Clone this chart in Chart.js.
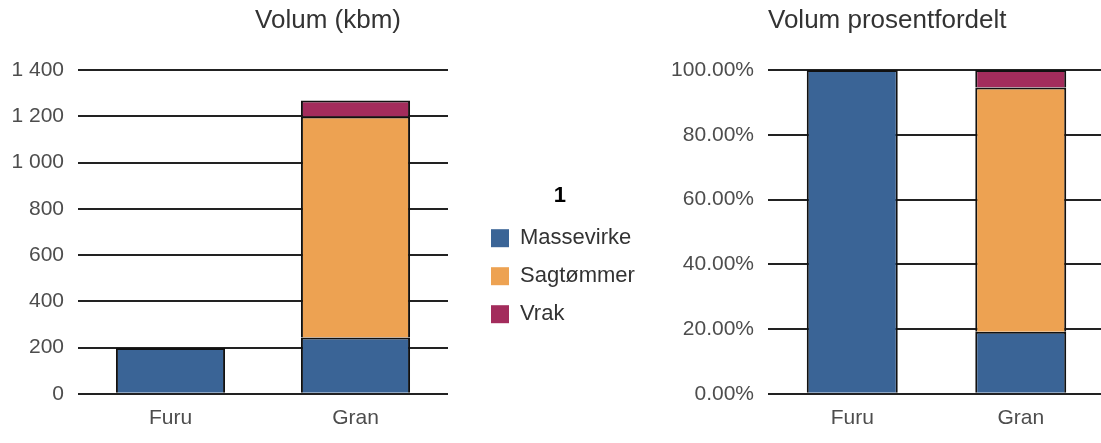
<!DOCTYPE html>
<html>
<head>
<meta charset="utf-8">
<script src="https://cdn.jsdelivr.net/npm/chart.js@4.4.1/dist/chart.umd.min.js"></script>
<style>
  html, body { margin: 0; padding: 0; background: #fff; overflow: hidden; width: 1101px; height: 443px; }
  #wrapL { position: absolute; left: 0; top: 0; width: 656px; height: 443px; }
  #wrapR { position: absolute; left: 475px; top: 0; width: 631px; height: 443px; }
</style>
</head>
<body>
<div id="wrapL"><canvas id="left"></canvas></div>
<div id="wrapR"><canvas id="right"></canvas></div>
<script>
// ---- data ----
const categories = ['Furu', 'Gran'];
const seriesNames = ['Massevirke', 'Sagtømmer', 'Vrak'];
const massevirke = [198, 243];
const sagtommer = [null, 956];
const vrak = [null, 69];
const leftTickLabels = ['0', '200', '400', '600', '800', '1 000', '1 200', '1 400'];
const rightTickLabels = ['0.00%', '20.00%', '40.00%', '60.00%', '80.00%', '100.00%'];
const leftTitle = 'Volum (kbm)';
const rightTitle = 'Volum prosentfordelt';
const legendTitle = '1';

// ---- styles ----
const colors = ['#3a6496', '#eda252', '#a32c5c'];
const FONT = '"Liberation Sans", Arial, sans-serif';
const seriesValues = [massevirke, sagtommer, vrak];
const totals = categories.map((_, i) => seriesValues.reduce((s, arr) => s + (arr[i] || 0), 0));
const percentValues = seriesValues.map(arr => arr.map((v, i) => v == null ? null : v / totals[i] * 100));

function makeDatasets(valuesList, barPct) {
  return seriesNames.map((name, k) => ({
    label: name,
    data: valuesList[k],
    backgroundColor: colors[k],
    borderColor: '#111',
    borderWidth: 2,
    barPercentage: barPct,
    categoryPercentage: 1
  }));
}

function scales(max, step, labels, yWidthFn, tickPad) {
  return {
    x: {
      stacked: true,
      grid: { display: false, drawTicks: false },
      border: { display: false },
      ticks: { color: '#4d4d4d', font: { family: FONT, size: 21 }, padding: 12 }
    },
    y: {
      stacked: true,
      min: 0, max: max,
      afterFit: yWidthFn,
      grid: { color: '#222', lineWidth: 2, drawTicks: false },
      border: { display: false },
      ticks: {
        stepSize: step,
        color: '#4d4d4d',
        font: { family: FONT, size: 21 },
        padding: tickPad,
        callback: (v, i) => labels[i]
      }
    }
  };
}

// centre the left title over the whole left canvas (including the legend gap)
const wideTitle = {
  id: 'wideTitle',
  afterLayout(chart) {
    if (chart.titleBlock) { chart.titleBlock.left = 0; chart.titleBlock.right = chart.width; }
  }
};

new Chart(document.getElementById('left'), {
  type: 'bar',
  data: { labels: categories, datasets: makeDatasets(seriesValues, 0.59) },
  plugins: [wideTitle],
  options: {
    responsive: true, maintainAspectRatio: false, animation: false,
    layout: { padding: { left: 0, right: 208, top: 0, bottom: 0 } },
    scales: scales(1400, 200, leftTickLabels, s => { s.width = 78; }, 14),
    plugins: {
      legend: { display: false },
      tooltip: { enabled: false },
      title: {
        display: true, text: leftTitle, color: '#333',
        font: { family: FONT, size: 26, weight: 'normal' },
        padding: { top: 5.5, bottom: 33.3 }
      }
    }
  }
});

new Chart(document.getElementById('right'), {
  type: 'bar',
  data: { labels: categories, datasets: makeDatasets(percentValues, 0.54) },
  options: {
    responsive: true, maintainAspectRatio: false, animation: false,
    layout: { padding: { left: 0, right: 1, top: 0, bottom: 0 } },
    scales: scales(100, 20, rightTickLabels, s => { s.width = 293 - s.chart.legend.width; }, 14),
    plugins: {
      tooltip: { enabled: false },
      title: {
        display: true, text: rightTitle, color: '#333', align: 'start', fullSize: false,
        font: { family: FONT, size: 26, weight: 'normal' },
        padding: { top: 5.5, bottom: 33.3 }
      },
      legend: {
        display: true, position: 'left', align: 'center', maxWidth: 220,
        title: {
          display: true, text: legendTitle, color: '#000',
          font: { family: FONT, size: 22, weight: 'bold' },
          padding: { top: 83, bottom: 0 }
        },
        labels: {
          boxWidth: 18, boxHeight: 18, padding: 16, color: '#333',
          font: { family: FONT, size: 22 },
          generateLabels: (chart) => {
            const items = Chart.defaults.plugins.legend.labels.generateLabels(chart);
            items.forEach(it => { it.strokeStyle = it.fillStyle; it.lineWidth = 0; });
            return items;
          }
        }
      }
    }
  }
});
</script>
</body>
</html>
